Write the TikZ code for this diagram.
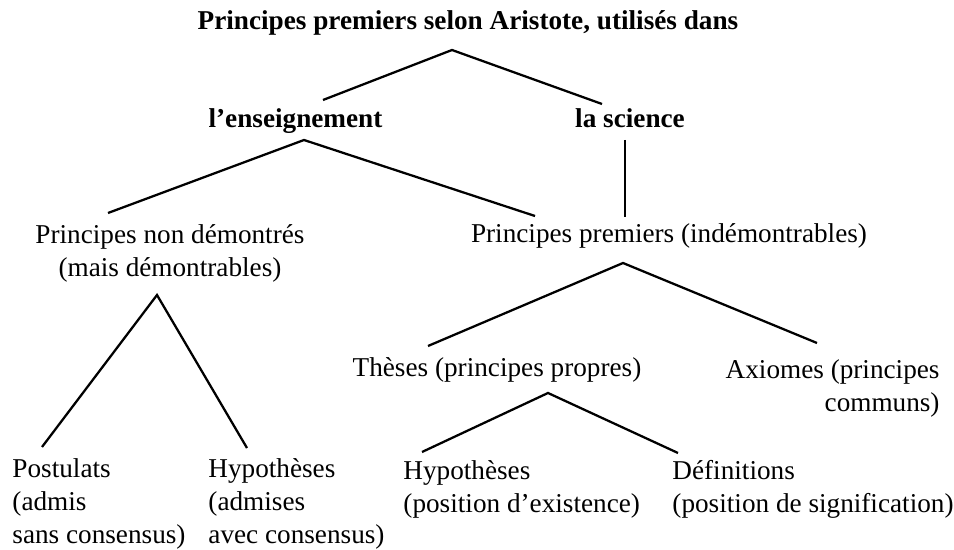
\documentclass[tikz,border=0pt]{standalone}
\usepackage{fontspec}
\setmainfont{Liberation Serif}

\begin{document}
\begin{tikzpicture}[scale=0.155]
\tikzstyle{every node}+=[inner sep=0pt, font=\fontsize{12}{14.6}\selectfont]
\tikzstyle{head}=[font=\fontsize{12}{14.6}\selectfont\bfseries]
\tikzstyle{branch}=[black, line width=1pt]
\useasboundingbox (0,0) rectangle (95.4,-55.0);
% labels (base = last line)
\node [head, anchor=base] (titre) at (46.8,-3.0) {Principes premiers selon Aristote, utilisés dans};
\node [head, anchor=base] (ens) at (29.55,-12.8) {l’enseignement};
\node [head, anchor=base] (sci) at (63.0,-12.8) {la science};
\node [anchor=base, align=center] (nondem) at (17.0,-27.7) {Principes non démontrés\\(mais démontrables)};
\node [anchor=base] (prem) at (66.9,-24.3) {Principes premiers (indémontrables)};
\node [anchor=base] (theses) at (49.7,-37.7) {Thèses (principes propres)};
\node [anchor=base east, align=right] (axiomes) at (94.0,-41.2) {Axiomes (principes\\communs)};
\node [anchor=base west, align=left] (postulats) at (1.2,-54.4) {Postulats\\(admis\\sans consensus)};
\node [anchor=base west, align=left] (hypa) at (20.8,-54.4) {Hypothèses\\(admises\\avec consensus)};
\node [anchor=base west, align=left] (hypb) at (40.3,-51.3) {Hypothèses\\(position d’existence)};
\node [anchor=base west, align=left] (defs) at (67.2,-51.3) {Définitions\\(position de signification)};
% branch points
\coordinate (titre-b) at (45.2,-5.0);
\coordinate (ens-a) at (32.3,-10.0);
\coordinate (sci-a) at (60.2,-10.4);
\coordinate (ens-b) at (30.4,-14.0);
\coordinate (nondem-a) at (10.8,-21.3);
\coordinate (prem-a) at (53.5,-21.6);
\coordinate (sci-b) at (62.5,-14.0);
\coordinate (prem-c) at (62.5,-21.7);
\coordinate (prem-b) at (62.3,-26.3);
\coordinate (theses-a) at (42.8,-34.6);
\coordinate (axiomes-a) at (81.7,-34.3);
\coordinate (nondem-b) at (15.7,-29.5);
\coordinate (postulats-a) at (4.2,-44.7);
\coordinate (hypa-a) at (24.7,-44.8);
\coordinate (theses-b) at (54.8,-39.3);
\coordinate (hypb-a) at (42.2,-45.2);
\coordinate (defs-a) at (67.8,-45.3);
% branches
\draw [branch] (ens-a) -- (titre-b) -- (sci-a);
\draw [branch] (nondem-a) -- (ens-b) -- (prem-a);
\draw [branch] (sci-b) -- (prem-c);
\draw [branch] (theses-a) -- (prem-b) -- (axiomes-a);
\draw [branch] (postulats-a) -- (nondem-b) -- (hypa-a);
\draw [branch] (hypb-a) -- (theses-b) -- (defs-a);
\end{tikzpicture}
\end{document}
